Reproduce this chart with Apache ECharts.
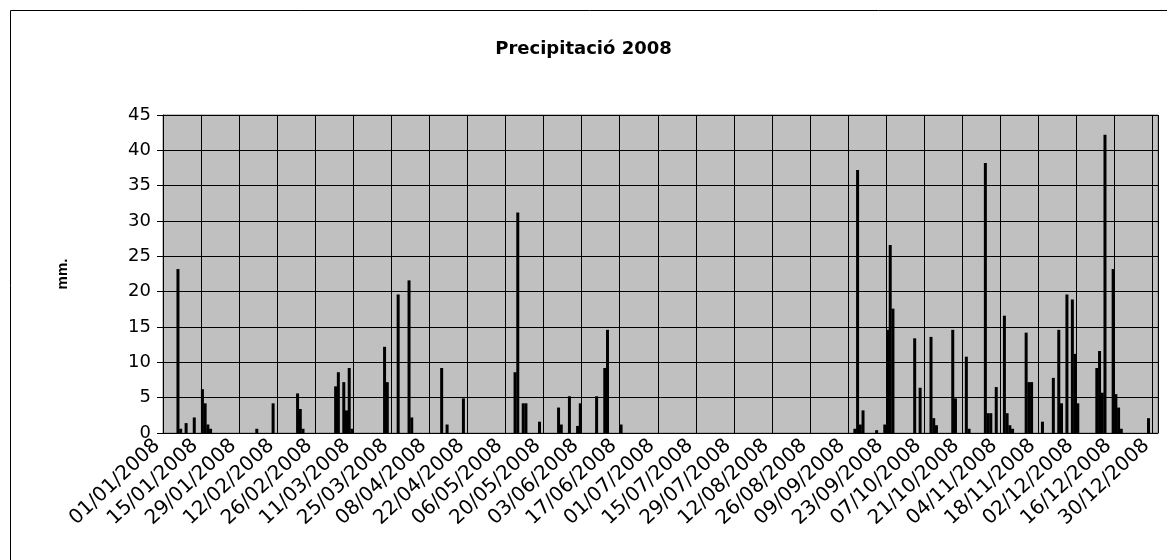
<!DOCTYPE html>
<html>
<head>
<meta charset="utf-8">
<script src="https://cdn.jsdelivr.net/npm/echarts@6/dist/echarts.min.js"></script>
<style>
  html, body { margin: 0; padding: 0; background: #fff; }
  #chart { width: 1167px; height: 560px; }
</style>
</head>
<body>
<div id="chart"></div>
<script>
// Rainy days of 2008 and their precipitation (mm.)
var rainDates = [
  '06/01/2008', '07/01/2008', '09/01/2008', '12/01/2008', '15/01/2008', '16/01/2008', '17/01/2008', '18/01/2008',
  '04/02/2008', '10/02/2008', '19/02/2008', '20/02/2008', '21/02/2008',
  '04/03/2008', '05/03/2008', '07/03/2008', '08/03/2008', '09/03/2008', '10/03/2008',
  '22/03/2008', '23/03/2008', '27/03/2008', '31/03/2008', '01/04/2008',
  '12/04/2008', '14/04/2008', '20/04/2008',
  '09/05/2008', '10/05/2008', '12/05/2008', '13/05/2008', '18/05/2008', '25/05/2008', '26/05/2008', '29/05/2008',
  '01/06/2008', '02/06/2008', '08/06/2008', '11/06/2008', '12/06/2008', '17/06/2008',
  '11/09/2008', '12/09/2008', '13/09/2008', '14/09/2008', '19/09/2008', '22/09/2008', '23/09/2008', '24/09/2008', '25/09/2008',
  '03/10/2008', '05/10/2008', '09/10/2008', '10/10/2008', '11/10/2008', '17/10/2008', '18/10/2008',
  '22/10/2008', '23/10/2008', '29/10/2008', '30/10/2008', '31/10/2008',
  '02/11/2008', '05/11/2008', '06/11/2008', '07/11/2008', '08/11/2008', '13/11/2008', '14/11/2008', '15/11/2008',
  '19/11/2008', '23/11/2008', '25/11/2008', '26/11/2008', '28/11/2008', '30/11/2008',
  '01/12/2008', '02/12/2008', '09/12/2008', '10/12/2008', '11/12/2008', '12/12/2008',
  '15/12/2008', '16/12/2008', '17/12/2008', '18/12/2008', '28/12/2008'
];
var rainMm = [
  23.2, 0.6, 1.4, 2.2, 6.2, 4.2, 1.2, 0.6,
  0.6, 4.2, 5.6, 3.4, 0.6,
  6.6, 8.6, 7.2, 3.2, 9.2, 0.6,
  12.2, 7.2, 19.6, 21.6, 2.2,
  9.2, 1.2, 4.9,
  8.6, 31.2, 4.2, 4.2, 1.6, 3.6, 1.2, 5.2,
  1.0, 4.2, 5.2, 9.2, 14.6, 1.2,
  0.6, 37.2, 1.2, 3.2, 0.4, 1.2, 14.6, 26.6, 17.6,
  13.4, 6.4, 13.6, 2.1, 1.1, 14.6, 4.9,
  10.8, 0.6, 38.2, 2.8, 2.8,
  6.5, 16.6, 2.8, 1.1, 0.6, 14.2, 7.2, 7.2,
  1.6, 7.8, 14.6, 4.2, 19.6, 18.9,
  11.2, 4.2, 9.2, 11.6, 5.7, 42.2,
  23.2, 5.5, 3.6, 0.6, 2.1
];

var yTicks = [0, 5, 10, 15, 20, 25, 30, 35, 40, 45];

// every day of 2008 as a category
var days = [];
for (var i = 0; i < 366; i++) {
  var d = new Date(Date.UTC(2008, 0, 1 + i));
  var dd = ('0' + d.getUTCDate()).slice(-2);
  var mm = ('0' + (d.getUTCMonth() + 1)).slice(-2);
  days.push(dd + '/' + mm + '/' + d.getUTCFullYear());
}

// dry days are 0
var values = days.map(function (day) {
  var k = rainDates.indexOf(day);
  return k >= 0 ? rainMm[k] : 0;
});

var chart = echarts.init(document.getElementById('chart'));
chart.setOption({
  animation: false,
  backgroundColor: '#fff',
  title: {
    text: 'Precipitació 2008',
    left: 'center',
    top: 35,
    textStyle: { fontFamily: 'DejaVu Sans', fontSize: 18, fontWeight: 'bold', color: '#000' }
  },
  graphic: [{
    type: 'rect',
    shape: { x: 10.5, y: 10.5, width: 1200, height: 600 },
    style: { fill: 'none', stroke: '#000', lineWidth: 1 },
    silent: true
  }],
  grid: {
    left: 163, top: 115, width: 995, height: 318,
    show: true, backgroundColor: '#c0c0c0', borderColor: '#808080', borderWidth: 1
  },
  xAxis: {
    type: 'category',
    data: days,
    boundaryGap: true,
    axisLine: { lineStyle: { color: '#000', width: 1 } },
    axisTick: { interval: 13, length: 5, lineStyle: { color: '#000' } },
    splitLine: { show: true, interval: 13, lineStyle: { color: '#000', width: 1 } },
    axisLabel: {
      interval: 13, rotate: 43, margin: 3, padding: [0, 10, 0, 0],
      fontFamily: 'DejaVu Sans', fontSize: 20, color: '#000'
    }
  },
  yAxis: {
    type: 'value',
    min: yTicks[0], max: yTicks[yTicks.length - 1], interval: 5,
    name: 'mm.',
    nameLocation: 'middle',
    nameRotate: 90,
    nameGap: 93,
    nameTextStyle: { fontFamily: 'Liberation Sans', fontSize: 15, fontWeight: 'bold', color: '#000' },
    axisLine: { show: true, lineStyle: { color: '#000', width: 1 } },
    axisTick: { show: true, length: 6, lineStyle: { color: '#000' } },
    splitLine: { show: true, lineStyle: { color: '#000', width: 1 } },
    axisLabel: { margin: 12, fontFamily: 'DejaVu Sans', fontSize: 18, color: '#000' }
  },
  series: [{
    type: 'bar',
    data: values,
    barWidth: 3,
    itemStyle: { color: '#000' }
  }]
});
</script>
</body>
</html>
